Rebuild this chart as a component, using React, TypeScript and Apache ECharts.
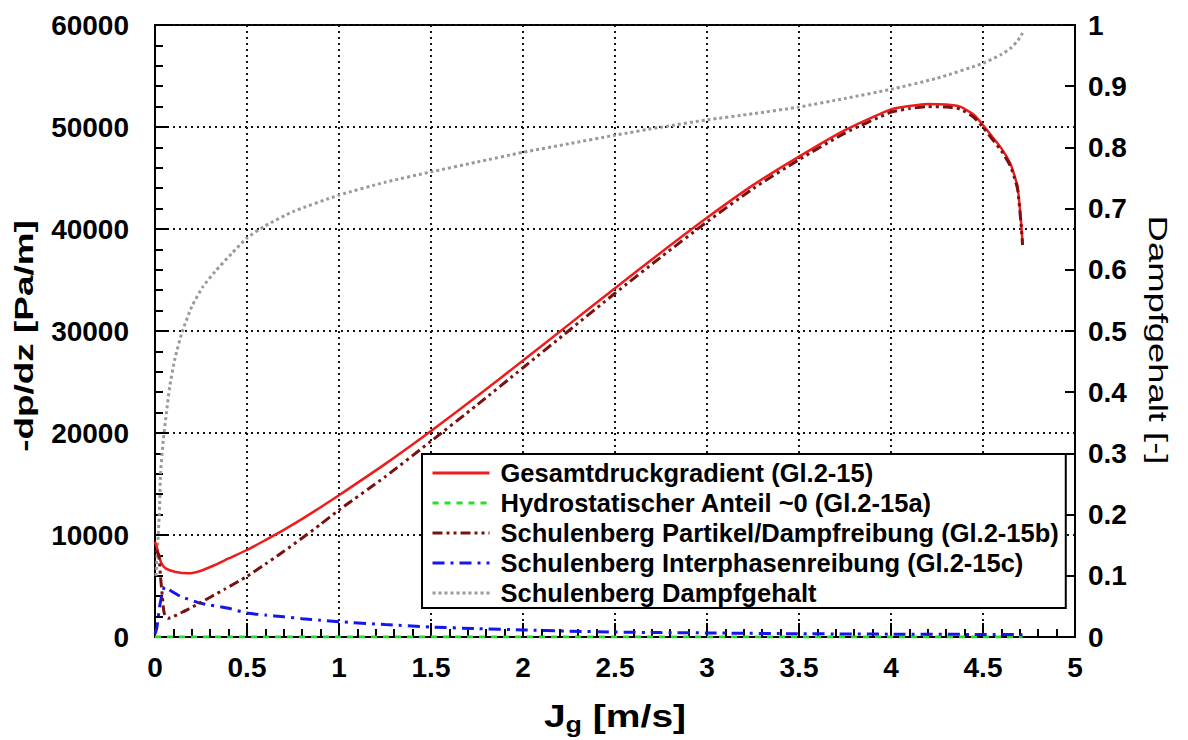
import React, { useEffect, useRef } from "react";
import * as echarts from "echarts";

// Gesamtdruckgradient (Gl.2-15)
const gesamtX = [0, 0.01, 0.02, 0.035, 0.06, 0.107, 0.18, 0.25, 0.325, 0.4, 0.5, 0.6, 0.7, 0.8, 0.9, 1.0, 1.25, 1.5, 1.75, 2.0, 2.25, 2.5, 2.75, 3.0, 3.25, 3.5, 3.75, 4.0, 4.1, 4.2, 4.3, 4.375, 4.45, 4.5, 4.55, 4.6, 4.648, 4.67, 4.688, 4.706, 4.715];
const gesamtY = [9340, 8800, 8100, 7220, 6700, 6400, 6240, 6500, 7060, 7700, 8530, 9500, 10500, 11580, 12720, 13900, 16950, 20200, 23600, 27100, 30650, 34200, 37700, 41100, 44300, 47100, 49700, 51730, 52050, 52250, 52200, 52000, 51200, 50200, 49050, 47900, 46440, 45300, 44150, 40880, 38660];

// Hydrostatischer Anteil ~0 (Gl.2-15a)
const hydroX = [0, 1, 2, 3, 4, 4.715];
const hydroY = [0, 0, 0, 0, 0, 0];

// Schulenberg Partikel/Dampfreibung (Gl.2-15b)
const partikelX = [0.005, 0.02, 0.03, 0.04, 0.05, 0.07, 0.15, 0.235, 0.3, 0.38, 0.5, 0.6, 0.7, 0.8, 0.9, 1.0, 1.25, 1.5, 1.75, 2.0, 2.25, 2.5, 2.75, 3.0, 3.25, 3.5, 3.75, 4.0, 4.1, 4.2, 4.3, 4.375, 4.45, 4.5, 4.55, 4.6, 4.648, 4.67, 4.688, 4.706, 4.715];
const partikelY = [8500, 8040, 5910, 3950, 2350, 1830, 2450, 3250, 3900, 4700, 5950, 7150, 8400, 9700, 11050, 12450, 15700, 19200, 22750, 26400, 30050, 33700, 37250, 40700, 43950, 46800, 49400, 51450, 51800, 52000, 51950, 51760, 50960, 49960, 48810, 47660, 46200, 45060, 43910, 40650, 38430];

// Schulenberg Interphasenreibung (Gl.2-15c)
const interX = [0, 0.01, 0.025, 0.04, 0.053, 0.08, 0.143, 0.252, 0.4, 0.5, 0.6, 0.7, 0.8, 0.9, 1.0, 1.25, 1.5, 1.75, 2.0, 2.25, 2.5, 2.75, 3.0, 3.5, 4.0, 4.5, 4.715];
const interY = [300, 900, 2970, 4300, 4930, 4600, 3950, 3300, 2810, 2350, 2150, 1980, 1800, 1650, 1500, 1220, 980, 820, 690, 570, 490, 430, 400, 320, 280, 250, 230];

// Schulenberg Dampfgehalt (right axis)
const dampfX = [0.005, 0.016, 0.025, 0.03, 0.045, 0.062, 0.08, 0.107, 0.145, 0.2, 0.26, 0.326, 0.418, 0.5, 0.6, 0.75, 1.0, 1.25, 1.5, 1.75, 2.0, 2.25, 2.5, 2.75, 3.0, 3.25, 3.5, 3.75, 4.0, 4.25, 4.5, 4.6, 4.65, 4.69, 4.715];
const dampfY = [0.1, 0.158, 0.213, 0.267, 0.322, 0.366, 0.409, 0.453, 0.496, 0.54, 0.572, 0.597, 0.627, 0.652, 0.672, 0.695, 0.722, 0.743, 0.76, 0.776, 0.792, 0.806, 0.82, 0.833, 0.845, 0.855, 0.866, 0.88, 0.895, 0.913, 0.9375, 0.952, 0.962, 0.975, 0.987];

const seriesNames = [
  "Gesamtdruckgradient (Gl.2-15)",
  "Hydrostatischer Anteil ~0 (Gl.2-15a)",
  "Schulenberg Partikel/Dampfreibung (Gl.2-15b)",
  "Schulenberg Interphasenreibung (Gl.2-15c)",
  "Schulenberg Dampfgehalt",
];

const xTicks = { min: 0, max: 5, interval: 0.5 };
const yLeftTicks = { min: 0, max: 60000, interval: 10000 };
const yRightTicks = { min: 0, max: 1, interval: 0.1 };

const xTitle = "{j|J}{g|g}{j| [m/s]}";
const yLeftTitle = "-dp/dz [Pa/m]";
const yRightTitle = "Dampfgehalt [-]";

const FONT = "'Liberation Sans', Arial, Helvetica, sans-serif";

const zip = (xs: number[], ys: number[]) => xs.map((x, i) => [x, ys[i]]);

export default function App() {
  const ref = useRef<HTMLDivElement>(null);
  useEffect(() => {
    document.body.style.margin = "0";
    if (!ref.current) return;
    const chart = echarts.init(ref.current, null, { renderer: "svg" });
    const grid = { left: 155, right: 113, top: 25, bottom: 103 };
    const splitStyle = { show: true, lineStyle: { color: "#111", width: 2, type: [2, 4] as any } };
    const tickLabel = { color: "#000", fontFamily: FONT, fontWeight: "bold" as const, fontSize: 28 };
    chart.setOption({
      animation: false,
      backgroundColor: "#fff",
      grid: { ...grid, show: true, borderColor: "#000", borderWidth: 2, backgroundColor: "transparent" },
      graphic: [
        {
          type: "text",
          x: 615,
          y: 716,
          scaleX: 1.22,
          style: {
            text: xTitle,
            align: "center",
            verticalAlign: "middle",
            rich: {
              j: { fontFamily: FONT, fontWeight: "bold", fontSize: 32, fill: "#000" },
              g: { fontFamily: FONT, fontWeight: "bold", fontSize: 22, fill: "#000", padding: [16, 0, 0, 0] },
            },
          },
        },
        {
          type: "text",
          x: 24,
          y: 336,
          rotation: Math.PI / 2,
          scaleX: 1.42,
          style: {
            text: yLeftTitle,
            align: "center",
            verticalAlign: "middle",
            fontFamily: FONT,
            fontWeight: "bold",
            fontSize: 26,
            fill: "#000",
          },
        },
        {
          type: "text",
          x: 1158,
          y: 340,
          rotation: -Math.PI / 2,
          scaleX: 1.4,
          style: {
            text: yRightTitle,
            align: "center",
            verticalAlign: "middle",
            fontFamily: FONT,
            fontWeight: "normal",
            fontSize: 26,
            fill: "#000",
          },
        },
      ],
      legend: {
        data: seriesNames,
        orient: "vertical",
        left: 422,
        top: 454,
        padding: [5, 7, 1, 9],
        itemWidth: 57,
        itemHeight: 20,
        itemGap: 2,
        borderColor: "#000",
        borderWidth: 2,
        backgroundColor: "#fff",
        itemStyle: { opacity: 0 },
        lineStyle: { width: 3 },
        textStyle: { color: "#000", fontFamily: FONT, fontWeight: "bold", fontSize: 25.5, lineHeight: 28, padding: [0, 0, 0, 6] },
      },
      xAxis: {
        type: "value",
        ...xTicks,
        axisLine: { show: true, lineStyle: { color: "#000", width: 2 } },
        axisTick: { show: true, inside: true, length: 14, lineStyle: { color: "#000", width: 2 } },
        minorTick: { show: true, splitNumber: 5, length: 8, lineStyle: { color: "#000", width: 2 } },
        axisLabel: { ...tickLabel, margin: 16, formatter: (v: number) => String(Math.round(v * 10) / 10) },
        splitLine: splitStyle,
      },
      yAxis: [
        {
          type: "value",
          position: "left",
          ...yLeftTicks,
          axisLine: { show: true, lineStyle: { color: "#000", width: 2 } },
          axisTick: { show: true, inside: true, length: 14, lineStyle: { color: "#000", width: 2 } },
          minorTick: { show: true, splitNumber: 5, length: 8, lineStyle: { color: "#000", width: 2 } },
          axisLabel: { ...tickLabel, margin: 26, formatter: (v: number) => String(v) },
          splitLine: splitStyle,
        },
        {
          type: "value",
          position: "right",
          ...yRightTicks,
          axisLine: { show: true, lineStyle: { color: "#000", width: 2 } },
          axisTick: { show: true, inside: true, length: 10, lineStyle: { color: "#000", width: 2 } },
          axisLabel: { ...tickLabel, margin: 13, formatter: (v: number) => String(Math.round(v * 10) / 10) },
          splitLine: { show: false },
        },
      ],
      series: [
        {
          name: seriesNames[4],
          type: "line",
          yAxisIndex: 1,
          data: zip(dampfX, dampfY),
          symbol: "none",
          smooth: 0.2,
          lineStyle: { color: "#9a9a9a", width: 3, type: [3, 3] },
          itemStyle: { color: "#9a9a9a" },
        },
        {
          name: seriesNames[1],
          type: "line",
          data: zip(hydroX, hydroY),
          symbol: "none",
          lineStyle: { color: "#22e022", width: 3, type: [6, 6] },
          itemStyle: { color: "#22e022" },
        },
        {
          name: seriesNames[3],
          type: "line",
          data: zip(interX, interY),
          symbol: "none",
          smooth: 0.2,
          lineStyle: { color: "#1515ee", width: 3, type: [12, 6, 3, 6] },
          itemStyle: { color: "#1515ee" },
        },
        {
          name: seriesNames[0],
          type: "line",
          data: zip(gesamtX, gesamtY),
          symbol: "none",
          smooth: 0.2,
          lineStyle: { color: "#ee1c1c", width: 2.5 },
          itemStyle: { color: "#ee1c1c" },
        },
        {
          name: seriesNames[2],
          type: "line",
          data: zip(partikelX, partikelY),
          symbol: "none",
          smooth: 0.2,
          lineStyle: { color: "#7a1010", width: 3, type: [10, 4, 3, 4, 3, 4] },
          itemStyle: { color: "#7a1010" },
        },
      ],
    });
    return () => chart.dispose();
  }, []);
  return <div ref={ref} style={{ width: 1188, height: 740 }} />;
}
